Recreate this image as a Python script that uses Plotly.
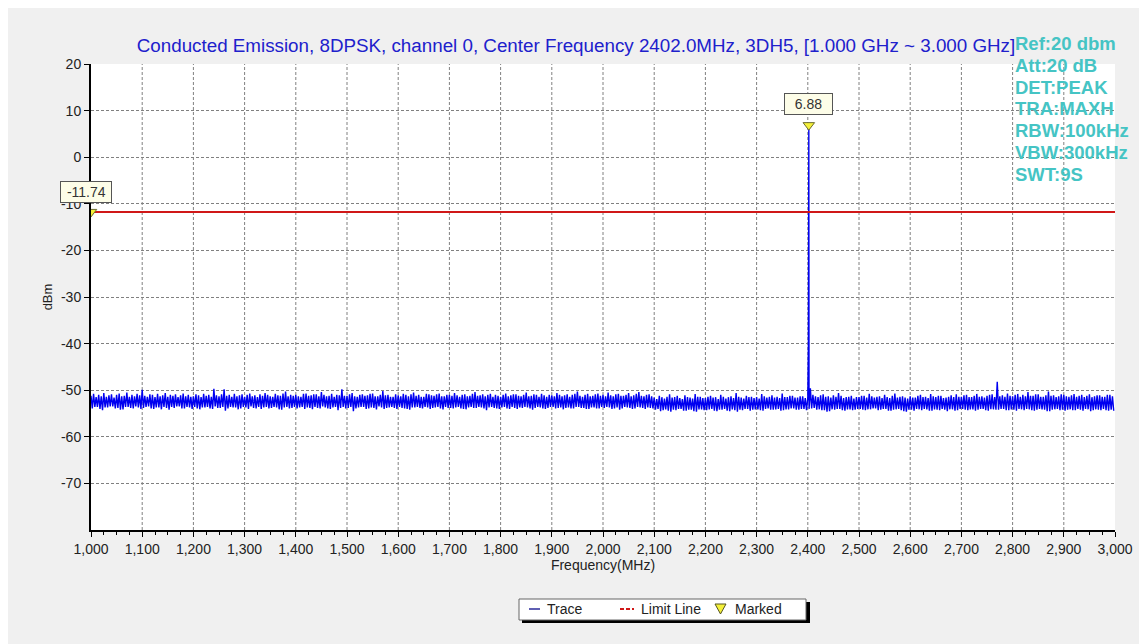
import numpy as np
import plotly.graph_objects as go

# ---------------- data ----------------
# per 5 MHz column: maximum (hi) and minimum (lo) of the noise trace, dBm
noise_hi = [
    # 1000-1095
    -51.2, -50.8, -51.5, -51.0, -51.3, -50.6, -51.4, -51.1, -50.9, -51.6, -51.0, -50.7, -51.3, -51.2, -50.5, -51.4, -51.0, -51.3, -50.8, -51.1,
    # 1100-1195
    -49.9, -51.2, -51.4, -50.9, -51.0, -51.5, -50.8, -51.3, -51.1, -50.6, -51.4, -51.0, -51.2, -50.9, -51.5, -51.1, -50.7, -51.3, -51.0, -51.4,
    # 1200-1295
    -51.3, -50.9, -51.1, -51.5, -50.8, -51.2, -51.0, -51.4, -49.7, -51.1, -51.3, -50.9, -49.8, -51.2, -51.0, -51.4, -50.8, -51.3, -51.1, -50.9,
    # 1300-1395
    -51.4, -51.0, -50.7, -51.3, -51.1, -51.5, -50.9, -51.2, -50.6, -51.0, -51.3, -51.4, -50.8, -51.1, -51.2, -50.7, -50.3, -51.3, -51.0, -51.2,
    # 1400-1495
    -51.0, -51.3, -51.4, -50.8, -50.7, -51.2, -51.1, -50.9, -50.9, -51.3, -50.4, -51.0, -51.3, -51.2, -50.8, -51.4, -51.0, -51.1, -49.8, -51.2,
    # 1500-1595
    -51.2, -50.9, -50.6, -51.3, -51.4, -51.0, -50.9, -51.2, -51.1, -50.8, -50.7, -51.3, -51.3, -51.0, -50.2, -51.1, -51.0, -51.4, -51.4, -50.9,
    # 1600-1695
    -51.1, -51.3, -50.8, -51.0, -51.3, -50.9, -50.5, -51.2, -51.0, -51.4, -51.4, -50.8, -50.9, -51.1, -51.2, -50.9, -50.7, -51.3, -51.3, -51.0,
    # 1700-1795
    -51.0, -51.2, -50.6, -51.1, -51.4, -51.0, -50.9, -51.3, -51.2, -50.8, -50.4, -51.2, -51.1, -50.9, -51.3, -51.0, -50.8, -51.4, -51.0, -51.2,
    # 1800-1895
    -51.4, -51.0, -50.7, -51.3, -51.1, -50.9, -50.9, -51.2, -51.3, -51.0, -50.5, -51.3, -51.2, -50.9, -51.0, -51.4, -50.8, -51.1, -51.4, -51.0,
    # 1900-1995
    -51.1, -51.3, -50.6, -51.0, -51.3, -51.1, -50.9, -51.4, -51.0, -50.8, -50.3, -51.2, -51.4, -51.0, -50.8, -51.3, -51.2, -50.9, -50.7, -51.2,
    # 2000-2095
    -51.0, -51.3, -50.5, -51.1, -51.3, -50.9, -50.8, -51.2, -51.2, -51.0, -50.6, -51.3, -51.1, -50.8, -50.4, -51.2, -51.3, -51.0, -50.9, -51.3,
    # 2100-2195
    -51.6, -51.9, -51.2, -51.5, -51.8, -51.4, -50.9, -51.6, -51.5, -51.2, -51.7, -51.9, -51.1, -51.5, -51.6, -51.8, -50.8, -51.4, -51.4, -51.7,
    # 2200-2295
    -51.7, -51.4, -51.2, -51.6, -51.5, -51.9, -51.0, -51.4, -51.8, -51.5, -51.3, -51.7, -50.6, -51.4, -51.6, -51.8, -51.2, -51.5, -51.4, -51.7,
    # 2300-2395
    -51.5, -51.8, -50.8, -51.3, -51.6, -51.4, -51.1, -51.6, -51.4, -51.7, -50.7, -51.5, -51.5, -51.2, -51.2, -51.6, -51.6, -51.3, -51.3, -51.7,
    # 2400-2495
    -51.6, -49.6, -51.0, -51.3, -51.5, -51.1, -50.9, -51.4, -51.3, -51.6, -51.1, -51.4, -50.6, -51.2, -51.7, -51.5, -51.4, -51.2, -51.8, -51.5,
    # 2500-2595
    -51.5, -51.2, -51.2, -51.6, -50.8, -51.3, -51.6, -51.4, -51.3, -51.7, -51.0, -51.5, -51.7, -51.2, -50.7, -51.6, -51.4, -51.3, -51.6, -51.8,
    # 2600-2695
    -51.3, -51.6, -51.6, -51.2, -51.0, -51.5, -51.4, -51.7, -50.8, -51.3, -51.5, -51.2, -51.2, -51.7, -51.6, -51.4, -51.1, -51.5, -50.9, -51.4,
    # 2700-2795
    -51.4, -51.1, -51.0, -51.5, -51.5, -51.2, -50.8, -51.4, -51.3, -51.6, -51.2, -51.0, -50.9, -51.5, -48.2, -51.3, -51.1, -51.4, -50.7, -51.2,
    # 2800-2895
    -51.3, -51.0, -50.8, -51.4, -51.0, -51.3, -50.4, -51.2, -51.2, -50.9, -50.9, -51.4, -51.4, -51.1, -50.3, -51.2, -51.1, -51.5, -51.3, -50.9,
    # 2900-2995
    -51.0, -51.3, -51.4, -51.1, -50.8, -51.4, -51.2, -51.0, -51.5, -51.2, -50.9, -51.5, -51.3, -51.1, -51.1, -51.4, -51.4, -51.0, -51.0, -51.3,
]

noise_lo = [
    # 1000-1095
    -53.9, -53.6, -53.6, -54.0, -54.3, -53.7, -53.7, -53.5, -53.5, -53.9, -53.8, -54.2, -54.1, -53.6, -53.6, -53.8, -53.9, -53.5, -53.7, -54.0,
    # 1100-1195
    -53.8, -53.6, -53.5, -53.9, -54.0, -53.7, -53.7, -54.1, -53.6, -53.8, -54.2, -53.6, -53.8, -53.5, -53.5, -53.9, -53.9, -53.6, -53.7, -54.0,
    # 1200-1295
    -53.6, -53.9, -54.1, -53.7, -53.7, -53.6, -53.9, -54.0, -53.5, -53.8, -53.8, -53.6, -54.4, -53.9, -53.6, -53.7, -53.7, -54.1, -53.9, -53.6,
    # 1300-1395
    -53.7, -54.0, -53.5, -53.8, -53.9, -53.6, -54.0, -53.7, -53.6, -53.9, -53.8, -53.6, -53.7, -54.1, -54.2, -53.7, -53.6, -53.9, -53.8, -53.6,
    # 1400-1495
    -53.9, -53.7, -53.6, -54.0, -53.7, -53.8, -54.1, -53.6, -53.8, -53.9, -53.5, -53.7, -53.9, -54.0, -53.7, -53.6, -54.3, -53.8, -53.6, -53.9,
    # 1500-1595
    -53.8, -53.6, -54.5, -53.9, -53.7, -53.6, -53.6, -54.0, -53.9, -53.7, -53.8, -54.1, -53.5, -53.7, -54.0, -53.8, -53.7, -53.6, -53.8, -54.0,
    # 1600-1695
    -53.6, -53.8, -53.9, -54.0, -54.2, -53.7, -53.7, -53.6, -53.8, -53.9, -53.6, -53.7, -54.0, -53.8, -53.7, -53.6, -53.9, -54.1, -53.6, -53.8,
    # 1700-1795
    -53.8, -53.9, -53.7, -53.6, -53.9, -54.0, -54.1, -53.7, -53.6, -53.8, -53.8, -53.6, -53.7, -53.9, -54.3, -53.7, -53.6, -53.8, -53.9, -54.0,
    # 1800-1895
    -53.7, -53.6, -53.9, -54.0, -53.6, -53.8, -54.0, -53.7, -53.8, -53.6, -53.7, -53.9, -54.2, -53.8, -53.6, -53.7, -53.9, -54.0, -53.8, -53.6,
    # 1900-1995
    -53.6, -53.9, -53.8, -53.7, -54.1, -53.8, -53.7, -53.9, -53.9, -53.6, -53.6, -53.8, -53.8, -54.0, -54.0, -53.7, -53.7, -53.9, -53.9, -53.6,
    # 2000-2095
    -53.8, -53.6, -53.7, -54.0, -53.9, -53.7, -54.2, -53.9, -53.6, -53.7, -53.8, -54.0, -53.9, -53.6, -53.7, -53.8, -54.0, -53.7, -53.8, -53.9,
    # 2100-2195
    -54.2, -54.0, -54.5, -54.3, -54.1, -54.4, -54.6, -54.2, -54.3, -54.0, -54.0, -54.4, -54.4, -54.2, -54.2, -54.5, -54.6, -54.1, -54.1, -54.3,
    # 2200-2295
    -54.3, -54.1, -54.0, -54.4, -54.5, -54.2, -54.2, -54.0, -54.4, -54.5, -54.1, -54.3, -54.6, -54.2, -54.3, -54.0, -54.0, -54.4, -54.2, -54.1,
    # 2300-2395
    -54.1, -54.3, -54.4, -54.0, -53.9, -54.2, -54.2, -54.1, -54.0, -54.4, -54.3, -54.1, -54.1, -53.9, -53.9, -54.2, -54.2, -54.0, -54.0, -54.3,
    # 2400-2495
    -54.0, -53.9, -53.8, -54.2, -54.1, -54.3, -54.3, -54.6, -54.5, -54.1, -54.2, -54.0, -54.0, -54.3, -54.4, -54.1, -54.1, -54.3, -54.2, -54.0,
    # 2500-2595
    -54.0, -54.2, -54.3, -54.1, -54.1, -53.9, -53.9, -54.3, -54.2, -54.0, -54.0, -54.4, -54.4, -54.2, -54.1, -54.0, -54.3, -54.5, -54.6, -54.2,
    # 2600-2695
    -54.2, -54.4, -54.0, -54.1, -54.3, -54.0, -54.1, -54.4, -54.4, -54.1, -54.2, -54.3, -54.0, -54.2, -54.5, -54.1, -54.1, -54.4, -54.3, -54.0,
    # 2700-2795
    -54.0, -54.2, -54.3, -54.1, -54.1, -54.4, -54.2, -54.0, -54.0, -54.3, -54.4, -54.1, -54.1, -54.2, -54.2, -54.0, -54.0, -54.3, -54.3, -54.1,
    # 2800-2895
    -54.2, -54.4, -54.0, -54.1, -54.3, -54.0, -54.1, -54.3, -54.4, -54.2, -54.0, -54.1, -54.2, -54.5, -54.5, -54.2, -54.1, -54.0, -54.3, -54.2,
    # 2900-2995
    -54.4, -54.2, -54.1, -54.3, -54.3, -54.0, -54.2, -54.4, -54.0, -54.1, -54.5, -54.3, -54.1, -54.2, -54.3, -54.0, -54.3, -54.4, -54.2, -54.4,
]
bin_start_mhz = list(range(1000, 3000, 5))

# carrier at 2402 MHz
peak_freq = [2401.2, 2401.6, 2402.0, 2402.4]
peak_level = [-40.0, -15.7, 6.88, -52.5]

limit_level = -11.74
marker_freq = [1000.0, 2402.0]
marker_level = [-11.74, 6.88]
marker_text = ["-11.74", "6.88"]

x_ticks = list(range(1000, 3001, 100))
x_ticktext = [f"{v:,}" for v in x_ticks]
y_ticks = list(range(20, -71, -10))
y_ticktext = [str(v) for v in y_ticks]

info_lines = ["Ref:20 dbm", "Att:20 dB", "DET:PEAK", "TRA:MAXH",
              "RBW:100kHz", "VBW:300kHz", "SWT:9S"]
title_text = ("Conducted Emission, 8DPSK, channel 0, Center Frequency 2402.0MHz, "
              "3DH5, [1.000 GHz ~ 3.000 GHz]")

# ---------------- build trace (max/min per column, in frequency order) ----------------
fx, fy = [], []
for f, hi, lo in zip(bin_start_mhz, noise_hi, noise_lo):
    fx += [f, f + 2.5]
    fy += [hi, lo]
fx += peak_freq
fy += peak_level
order = np.argsort(np.array(fx), kind="stable")
tx = np.array(fx)[order]
ty = np.array(fy)[order]

# ---------------- figure ----------------
OX, OY = 8, 8              # page body margin
W, H = 1147 - OX, 644 - OY
L, R, T, B = 83, 32, 56, 114
PW, PH = W - L - R, H - T - B


def px(x):   # page pixel -> paper
    return (x - OX - L) / PW


def py(y):
    return (H - B - (y - OY)) / PH


fig = go.Figure()

fig.add_trace(go.Scatter(
    x=tx, y=ty, mode="lines", name="Trace",
    line=dict(color="#0000f0", width=1.4), showlegend=False,
))
fig.add_trace(go.Scatter(
    x=[x_ticks[0], x_ticks[-1]], y=[limit_level, limit_level], mode="lines",
    name="Limit Line", line=dict(color="#d01818", width=2), showlegend=False,
))
fig.add_trace(go.Scatter(
    x=marker_freq, y=marker_level, mode="markers", name="Marked",
    marker=dict(symbol="triangle-down", size=10, color="#f4f03a",
                line=dict(color="#6b6b30", width=1)),
    showlegend=False,
))

annotations = []
# marker value labels
for (mf, ml, mt, xs, ys, pad) in [
        (marker_freq[0], marker_level[0], marker_text[0], -5, 20, "&nbsp;"),
        (marker_freq[1], marker_level[1], marker_text[1], 0, 21, "&nbsp;&nbsp;")]:
    annotations.append(dict(
        x=mf, y=ml, xref="x", yref="y", text=pad + mt + pad,
        showarrow=False, xshift=xs, yshift=ys,
        font=dict(family="Arial", size=14, color="#333333"),
        bgcolor="#fdfde8", bordercolor="#555555", borderwidth=1, borderpad=2,
    ))

# info text block
for i, t in enumerate(info_lines):
    annotations.append(dict(
        x=px(1013), y=py(43.5 + 21.8 * i), xref="paper", yref="paper",
        xanchor="left", yanchor="middle", showarrow=False, text="<b>" + t + "</b>",
        font=dict(family="Arial", size=18.5, color="#45c4c4"),
    ))

# manual legend
legend_y = 609
annotations += [
    dict(x=px(545), y=py(legend_y), xref="paper", yref="paper", xanchor="left",
         yanchor="middle", showarrow=False, text="Trace",
         font=dict(family="Arial", size=14, color="#222222")),
    dict(x=px(639), y=py(legend_y), xref="paper", yref="paper", xanchor="left",
         yanchor="middle", showarrow=False, text="Limit Line",
         font=dict(family="Arial", size=14, color="#222222")),
    dict(x=px(733), y=py(legend_y), xref="paper", yref="paper", xanchor="left",
         yanchor="middle", showarrow=False, text="Marked",
         font=dict(family="Arial", size=14, color="#222222")),
]

shapes = []
# vertical grid lines (interior only, as in the reference)
for v in x_ticks[1:-1]:
    shapes.append(dict(type="line", xref="x", yref="paper", x0=v, x1=v, y0=0, y1=1,
                       line=dict(width=1, color="#808080", dash="3px,2px"), layer="below"))
shapes += [
    # legend shadow and box
    dict(type="rect", xref="paper", yref="paper", x0=px(522), x1=px(810), y0=py(602), y1=py(623),
         line=dict(width=0), fillcolor="#000000"),
    dict(type="rect", xref="paper", yref="paper", x0=px(519), x1=px(806), y0=py(599), y1=py(620),
         line=dict(width=1, color="#666666"), fillcolor="white"),
    dict(type="line", xref="paper", yref="paper", x0=px(529), x1=px(540), y0=py(legend_y), y1=py(legend_y),
         line=dict(width=1.5, color="#2a2a9a")),
    dict(type="line", xref="paper", yref="paper", x0=px(620), x1=px(634), y0=py(legend_y), y1=py(legend_y),
         line=dict(width=2, color="#d01818", dash="4px,2px")),
    dict(type="path", xref="paper", yref="paper",
         path=f"M {px(715)},{py(604)} L {px(726)},{py(604)} L {px(720.5)},{py(614)} Z",
         line=dict(width=1, color="#555520"), fillcolor="#f4f03a"),
]

fig.update_layout(
    width=W, height=H,
    margin=dict(l=L, r=R, t=T, b=B, pad=0),
    paper_bgcolor="#f0f0f0", plot_bgcolor="white",
    font=dict(family="Arial", size=14, color="#222222"),
    title=dict(text=title_text, x=(576 - OX) / W, xref="container", xanchor="center",
               y=1 - (45 - OY) / H, yref="container", yanchor="middle",
               font=dict(family="Arial", size=18.8, color="#2020cc")),
    showlegend=False,
    annotations=annotations,
    shapes=shapes,
    xaxis=dict(
        range=[1000, 3000], tickvals=x_ticks, ticktext=x_ticktext,
        showline=True, linecolor="black", linewidth=2, mirror=False,
        ticks="outside", ticklen=5, tickcolor="black", tickwidth=1,
        minor=dict(dtick=25, tick0=1000, ticks="outside", ticklen=3, tickcolor="black", showgrid=False),
        showgrid=False, zeroline=False,
        title=dict(text="Frequency(MHz)", standoff=4, font=dict(size=14, family="Arial")),
        tickfont=dict(size=14, family="Arial", color="#222222"),
    ),
    yaxis=dict(
        range=[-80, 20], tickvals=y_ticks, ticktext=y_ticktext,
        showline=True, linecolor="black", linewidth=2, mirror=False,
        ticks="outside", ticklen=5, tickcolor="black", tickwidth=1,
        showgrid=False,
        minor=dict(tickvals=y_ticks[1:], ticks="", showgrid=True, gridcolor="#808080",
                   gridwidth=1, griddash="3px,2px"),
        zeroline=False,
        title=dict(text="dBm", standoff=5, font=dict(size=13, family="Arial")),
        tickfont=dict(size=14, family="Arial", color="#222222"),
    ),
)

fig.write_html("out.html")
